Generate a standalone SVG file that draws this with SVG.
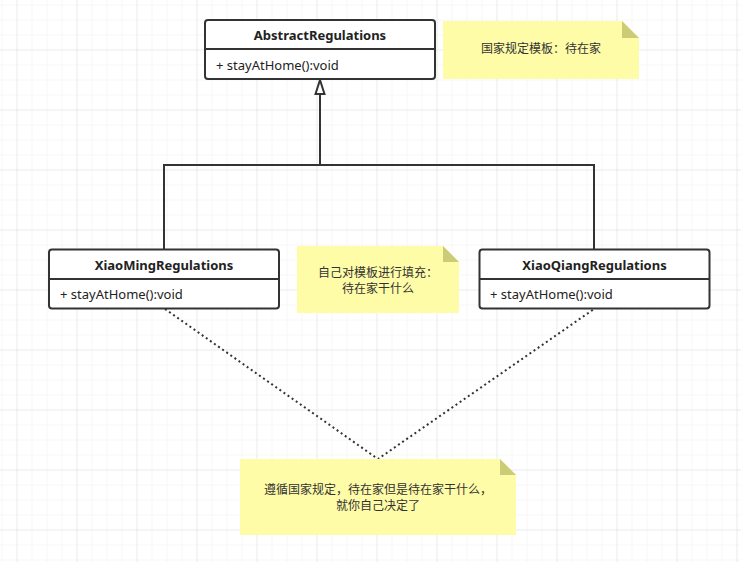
<svg xmlns="http://www.w3.org/2000/svg" width="741" height="562" viewBox="0 0 741 562">
<defs>
<pattern id="minor" x="1.5" y="4.5" width="15" height="15" patternUnits="userSpaceOnUse">
<path d="M0 0H15M0 0V15" fill="none" stroke="#efefef" stroke-width="1"/>
</pattern>
<pattern id="major" x="16.5" y="49.5" width="60" height="60" patternUnits="userSpaceOnUse">
<path d="M0 0H60M0 0V60" fill="none" stroke="#e2e2e2" stroke-width="1"/>
</pattern>
</defs>
<style>
.box{fill:#fff;stroke:#333;stroke-width:2}
.div{stroke:#333;stroke-width:2}
.title{font-family:"Noto Sans","Liberation Sans",sans-serif;font-weight:bold;font-size:13px;fill:#222;text-anchor:middle}
.meth{font-family:"Noto Sans","Liberation Sans",sans-serif;font-size:13px;fill:#222}
.note{fill:#fffca8}
.fold{fill:#cccc77}
.cn{font-family:"Noto Sans CJK SC",sans-serif;font-size:12px;fill:#333;text-anchor:middle}
.edge{fill:none;stroke:#333;stroke-width:2}
.dot{fill:none;stroke:#333;stroke-width:2;stroke-dasharray:2 3}
</style>
<rect width="741" height="562" fill="#fff"/>
<rect width="741" height="562" fill="url(#minor)"/>
<rect width="741" height="562" fill="url(#major)"/>

<g id="connectors">
<path class="edge" d="M164 249 V165 H594 V249"/>
<path class="edge" d="M320 165 V94"/>
<path d="M320 80 L324.5 94 L315.5 94 Z" fill="#fff" stroke="#333" stroke-width="2"/>
<path class="dot" d="M165 309 L378 459 L594 309"/>
</g>

<g id="AbstractRegulations">
<rect class="box" x="205" y="20" width="230" height="59" rx="3"/>
<line class="div" x1="205" y1="49" x2="435" y2="49"/>
<text class="title" x="320" y="40">AbstractRegulations</text>
<text class="meth" x="216" y="70">+ stayAtHome():void</text>
</g>

<g id="XiaoMingRegulations">
<rect class="box" x="49" y="249.5" width="230" height="59" rx="3"/>
<line class="div" x1="49" y1="279" x2="279" y2="279"/>
<text class="title" x="164" y="269.5">XiaoMingRegulations</text>
<text class="meth" x="60" y="298.5">+ stayAtHome():void</text>
</g>

<g id="XiaoQiangRegulations">
<rect class="box" x="479.5" y="249.5" width="230" height="59" rx="3"/>
<line class="div" x1="479.5" y1="279" x2="709.5" y2="279"/>
<text class="title" x="594.5" y="269.5">XiaoQiangRegulations</text>
<text class="meth" x="490" y="298.5">+ stayAtHome():void</text>
</g>

<g id="note1">
<path class="note" d="M443 21 H622 L639 38 V79 H443 Z"/>
<path class="fold" d="M622 21 L639 38 H622 Z"/>
<text class="cn" x="541" y="52.5">国家规定模板：待在家</text>
</g>

<g id="note2">
<path class="note" d="M297 246 H443 L459 262 V313 H297 Z"/>
<path class="fold" d="M443 246 L459 262 H443 Z"/>
<text class="cn" x="378" y="276.5">自己对模板进行填充：</text>
<text class="cn" x="378" y="292.5">待在家干什么</text>
</g>

<g id="note3">
<path class="note" d="M240 459 H500 L516 475 V535 H240 Z"/>
<path class="fold" d="M500 459 L516 475 H500 Z"/>
<text class="cn" x="378" y="494">遵循国家规定，待在家但是待在家干什么，</text>
<text class="cn" x="378" y="510">就你自己决定了</text>
</g>
</svg>
